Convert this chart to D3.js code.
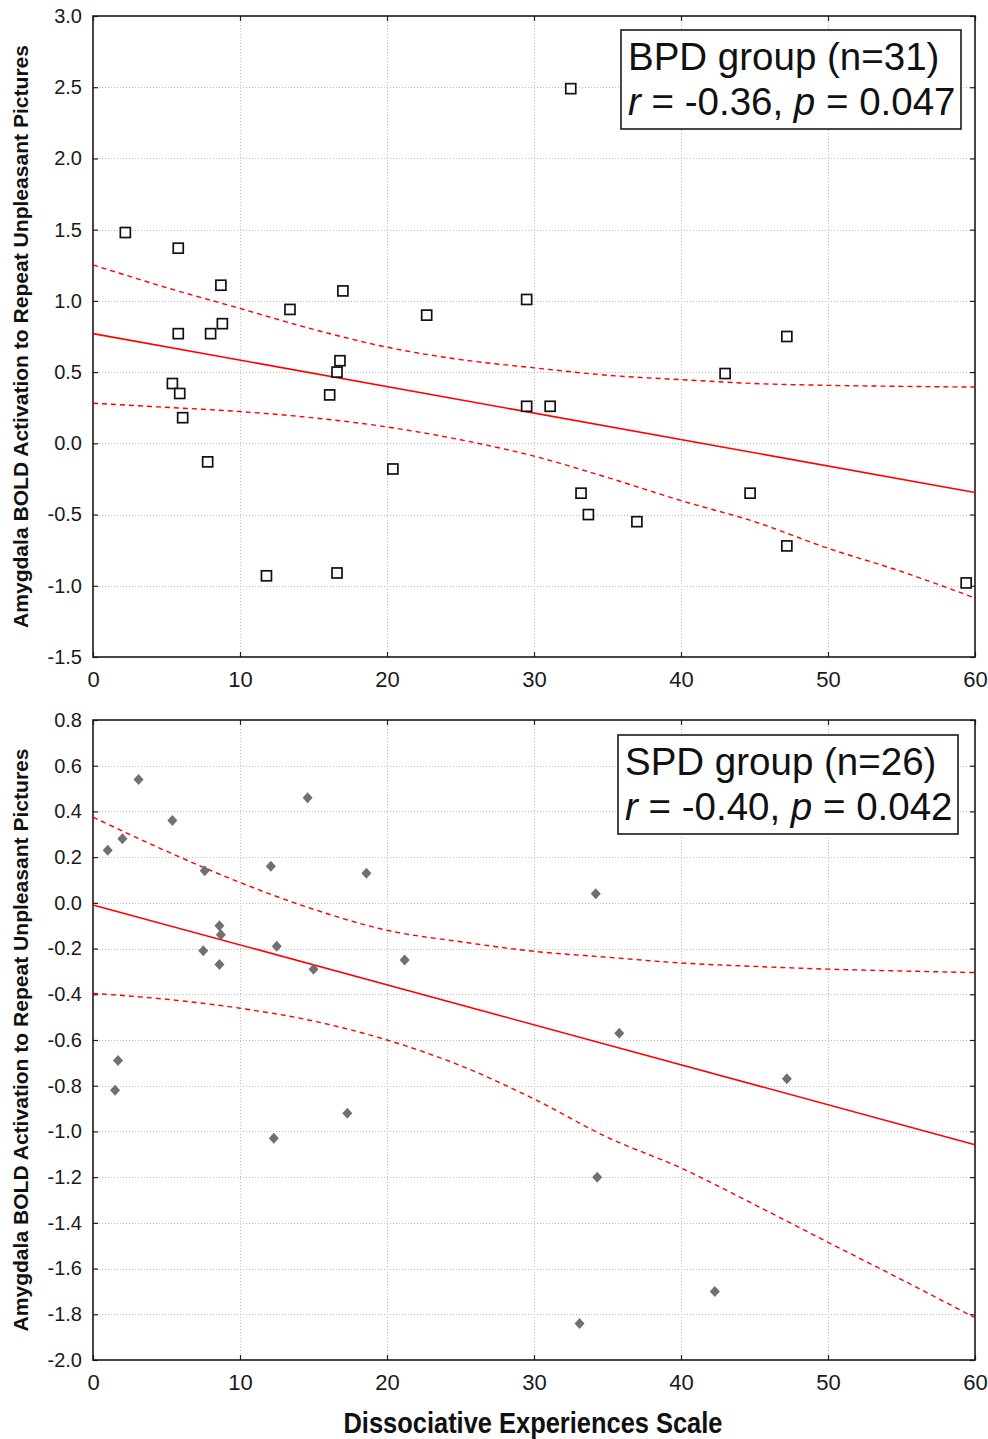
<!DOCTYPE html>
<html><head><meta charset="utf-8">
<script src="https://cdn.jsdelivr.net/npm/d3@7"></script>
<style>
body{margin:0;background:#fff;}
svg{display:block;}
</style></head>
<body><svg id="chart" width="988" height="1439"></svg>
<script>
// ---------- data ----------
const xTicks = [0, 10, 20, 30, 40, 50, 60];
const bpdYTicks = [3.0, 2.5, 2.0, 1.5, 1.0, 0.5, 0.0, -0.5, -1.0, -1.5];
const spdYTicks = [0.8, 0.6, 0.4, 0.2, 0.0, -0.2, -0.4, -0.6, -0.8, -1.0, -1.2, -1.4, -1.6, -1.8, -2.0];

const bpdX = [2.2, 5.8, 8.7, 5.8, 8.0, 8.8, 5.4, 5.9, 6.1, 7.8, 11.8, 13.4, 17.0, 16.8, 16.6, 16.1, 16.6, 20.4, 22.7, 29.5, 29.5, 31.1, 32.5, 33.2, 33.7, 37.0, 43.0, 47.2, 44.7, 47.2, 59.4];
const bpdY = [1.48, 1.37, 1.11, 0.77, 0.77, 0.84, 0.42, 0.35, 0.18, -0.13, -0.93, 0.94, 1.07, 0.58, 0.50, 0.34, -0.91, -0.18, 0.90, 1.01, 0.26, 0.26, 2.49, -0.35, -0.50, -0.55, 0.49, 0.75, -0.35, -0.72, -0.98];

const spdX = [1.0, 2.0, 3.1, 5.4, 7.6, 14.6, 12.1, 18.6, 8.6, 8.7, 7.5, 8.6, 12.5, 15.0, 21.2, 1.7, 1.5, 17.3, 12.3, 34.2, 35.8, 47.2, 34.3, 42.3, 33.1];
const spdY = [0.23, 0.28, 0.54, 0.36, 0.14, 0.46, 0.16, 0.13, -0.10, -0.14, -0.21, -0.27, -0.19, -0.29, -0.25, -0.69, -0.82, -0.92, -1.03, 0.04, -0.57, -0.77, -1.20, -1.70, -1.84];

const fitX = [0, 60];
const bpdFitY = [0.77, -0.345];
const spdFitY = [-0.009, -1.058];

const bandX = [0, 5, 10, 15, 20, 25, 30, 35, 40, 45, 50, 55, 60];
const bpdUpper = [1.253, 1.093, 0.947, 0.80, 0.675, 0.588, 0.53, 0.478, 0.447, 0.42, 0.407, 0.40, 0.395];
const bpdLower = [0.281, 0.253, 0.223, 0.179, 0.115, 0.025, -0.09, -0.24, -0.402, -0.55, -0.737, -0.90, -1.086];
const spdUpper = [0.375, 0.226, 0.089, -0.028, -0.12, -0.17, -0.212, -0.238, -0.263, -0.278, -0.29, -0.298, -0.305];
const spdLower = [-0.396, -0.422, -0.461, -0.517, -0.60, -0.712, -0.858, -1.026, -1.16, -1.32, -1.485, -1.648, -1.815];

const xLabel = "Dissociative Experiences Scale";
const yLabel = "Amygdala BOLD Activation to Repeat Unpleasant Pictures";

// ---------- drawing ----------
const svg = d3.select("#chart");
const loc = d3.formatLocale({decimal: ".", thousands: ",", grouping: [3], currency: ["", ""], minus: "-"});
const fmt1 = loc.format(".1f");

function panel(cfg) {
  const L = 93, R = 975, T = cfg.top, B = cfg.bottom;
  const x = d3.scaleLinear().domain([0, 60]).range([L, R]);
  const y = d3.scaleLinear().domain([cfg.yTicks[cfg.yTicks.length - 1], cfg.yTicks[0]]).range([B, T]);
  const g = svg.append("g");

  // grid
  const grid = g.append("g").attr("stroke", "#bcbcbc").attr("stroke-width", 1).attr("stroke-dasharray", "1,2");
  grid.selectAll("line.gx").data(xTicks.slice(1, -1)).join("line")
    .attr("x1", d => Math.round(x(d)) + 0.5).attr("x2", d => Math.round(x(d)) + 0.5)
    .attr("y1", T).attr("y2", B);
  grid.selectAll("line.gy").data(cfg.yTicks.slice(1, -1)).join("line")
    .attr("y1", d => Math.round(y(d)) + 0.5).attr("y2", d => Math.round(y(d)) + 0.5)
    .attr("x1", L).attr("x2", R);

  // axes
  const axL = g.append("g").attr("transform", `translate(${L},0)`)
    .call(d3.axisLeft(y).tickValues(cfg.yTicks).tickFormat(fmt1).tickSizeInner(-5).tickSizeOuter(0).tickPadding(11));
  const axR = g.append("g").attr("transform", `translate(${R},0)`)
    .call(d3.axisRight(y).tickValues(cfg.yTicks).tickFormat("").tickSizeInner(-5).tickSizeOuter(0));
  const axB = g.append("g").attr("transform", `translate(0,${B})`)
    .call(d3.axisBottom(x).tickValues(xTicks).tickFormat(d3.format("d")).tickSizeInner(-5).tickSizeOuter(0).tickPadding(14));
  const axT = g.append("g").attr("transform", `translate(0,${T})`)
    .call(d3.axisTop(x).tickValues(xTicks).tickFormat("").tickSizeInner(-5).tickSizeOuter(0));
  [axL, axR, axB, axT].forEach(a => {
    a.select(".domain").remove();
    a.selectAll(".tick line").attr("stroke", "#222").attr("stroke-width", 1.2);
  });
  axL.selectAll(".tick text").attr("font-family", "'Liberation Sans', Arial, sans-serif").attr("font-size", 20).attr("fill", "#1a1a1a");
  axB.selectAll(".tick text").attr("font-family", "'Liberation Sans Narrow', 'Arial Narrow', sans-serif").attr("font-size", 22).attr("fill", "#1a1a1a");

  // frame
  g.append("rect").attr("x", L).attr("y", T).attr("width", R - L).attr("height", B - T)
    .attr("fill", "none").attr("stroke", "#1a1a1a").attr("stroke-width", 1.6);

  // fit and confidence band
  const line = d3.line().x(d => x(d[0])).y(d => y(d[1]));
  const curve = d3.line().x(d => x(d[0])).y(d => y(d[1])).curve(d3.curveMonotoneX);
  g.append("path").attr("d", line(fitX.map((v, i) => [v, cfg.fitY[i]])))
    .attr("fill", "none").attr("stroke", "#ff0000").attr("stroke-width", 1.6);
  [cfg.upper, cfg.lower].forEach(arr => {
    g.append("path").attr("d", curve(bandX.map((v, i) => [v, arr[i]])))
      .attr("fill", "none").attr("stroke", "#ff0000").attr("stroke-width", 1.4).attr("stroke-dasharray", "5,4");
  });

  // points
  const pts = cfg.xs.map((v, i) => [v, cfg.ys[i]]);
  if (cfg.marker === "square") {
    g.selectAll("rect.pt").data(pts).join("rect").attr("class", "pt")
      .attr("x", d => x(d[0]) - 5).attr("y", d => y(d[1]) - 5).attr("width", 10).attr("height", 10)
      .attr("fill", "#fff").attr("stroke", "#111").attr("stroke-width", 1.7);
  } else {
    g.selectAll("path.pt").data(pts).join("path").attr("class", "pt")
      .attr("d", d => { const cx = x(d[0]), cy = y(d[1]); return `M${cx},${cy - 5.5}L${cx + 5},${cy}L${cx},${cy + 5.5}L${cx - 5},${cy}Z`; })
      .attr("fill", "#707070");
  }

  // legend box
  const lb = cfg.legend;
  g.append("rect").attr("x", lb.x).attr("y", lb.y).attr("width", lb.w).attr("height", lb.h)
    .attr("fill", "#fff").attr("stroke", "#1a1a1a").attr("stroke-width", 1.6);
  const tf = "'Liberation Sans', Arial, sans-serif";
  g.append("text").attr("x", lb.x + 7).attr("y", lb.y + 40).attr("font-family", tf).attr("font-size", 38.5).attr("fill", "#111")
    .text(lb.title);
  const t2 = g.append("text").attr("x", lb.x + 7).attr("y", lb.y + 85).attr("font-family", tf).attr("font-size", 38.5).attr("fill", "#111");
  t2.append("tspan").attr("font-style", "italic").text("r");
  t2.append("tspan").text(" = " + lb.r + ", ");
  t2.append("tspan").attr("font-style", "italic").text("p");
  t2.append("tspan").text(" = " + lb.p);

  // y label
  svg.append("text").attr("transform", `translate(28,${(T + B) / 2}) rotate(-90)`)
    .attr("text-anchor", "middle").attr("font-family", "'Liberation Sans Narrow', 'Arial Narrow', sans-serif")
    .attr("font-weight", "bold").attr("font-size", 21).attr("fill", "#111")
    .attr("textLength", 583).attr("lengthAdjust", "spacingAndGlyphs")
    .text(yLabel);
}

panel({top: 16, bottom: 657, yTicks: bpdYTicks, xs: bpdX, ys: bpdY, fitY: bpdFitY, upper: bpdUpper, lower: bpdLower,
  marker: "square", legend: {x: 621, y: 30, w: 340, h: 99, title: "BPD group (n=31)", r: "-0.36", p: "0.047"}});
panel({top: 720, bottom: 1360, yTicks: spdYTicks, xs: spdX, ys: spdY, fitY: spdFitY, upper: spdUpper, lower: spdLower,
  marker: "diamond", legend: {x: 618, y: 735, w: 340, h: 99, title: "SPD group (n=26)", r: "-0.40", p: "0.042"}});

// x label
svg.append("text").attr("x", 533).attr("y", 1433).attr("text-anchor", "middle")
  .attr("font-family", "'Liberation Sans Narrow', 'Arial Narrow', sans-serif").attr("font-weight", "bold")
  .attr("font-size", 30).attr("fill", "#111").attr("textLength", 379).attr("lengthAdjust", "spacingAndGlyphs")
  .text(xLabel);
</script>
</body></html>
